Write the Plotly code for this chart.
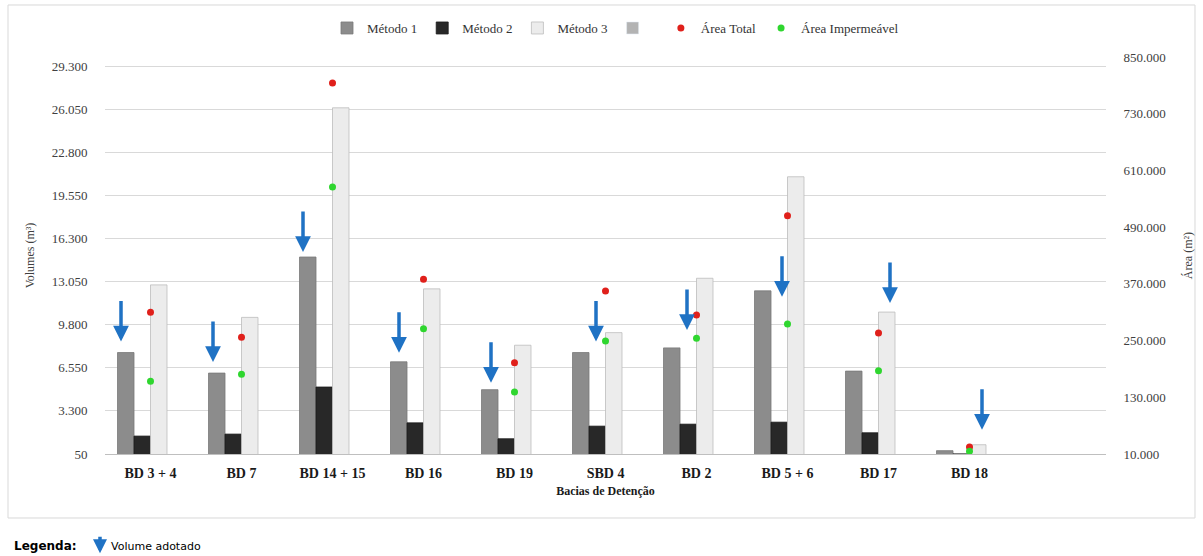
import plotly.graph_objects as go

# ---------------- data ----------------
categories = ["BD 3 + 4", "BD 7", "BD 14 + 15", "BD 16", "BD 19",
              "SBD 4", "BD 2", "BD 5 + 6", "BD 17", "BD 18"]
metodo1 = [7700, 6150, 14900, 7000, 4900, 7700, 8050, 12350, 6300, 300]
metodo2 = [1400, 1550, 5100, 2400, 1200, 2150, 2300, 2450, 1650, 60]
metodo3 = [12800, 10350, 26150, 12500, 8250, 9200, 13300, 20950, 10750, 750]
area_total = [310000, 257000, 795000, 380000, 203000, 355000, 304000, 514000, 266000, 25000]
area_imperm = [164000, 179000, 575000, 275000, 141000, 249000, 255000, 285000, 186000, 16000]
# which method's volume was adopted (1 or 3)
adopted = [1, 1, 1, 1, 1, 1, 1, 1, 3, 3]

left_ticks = [50, 3300, 6550, 9800, 13050, 16300, 19550, 22800, 26050, 29300]
right_ticks = [10000, 130000, 250000, 370000, 490000, 610000, 730000, 850000]

# ---------------- style ----------------
SERIF = "Liberation Serif"
SANS = "DejaVu Sans"
ARROW_BLUE = "#1f72c4"
arrow_xshift = [-29.5, -28.5, -29.5, -24.5, -23.5, -9.5, -9.5, -5.5, 11.5, 12.5]
arrow_gap = [11, 11, 5, 9, 7, 11, 18, -6, 9, 15]

fig = go.Figure()
fig.add_trace(go.Bar(name="Método 1", x=categories, y=metodo1,
                     marker=dict(color="#8c8c8c", line=dict(color="#7a7a7a", width=0.8))))
fig.add_trace(go.Bar(name="Método 2", x=categories, y=metodo2,
                     marker=dict(color="#282828", line=dict(color="#1a1a1a", width=0.8))))
fig.add_trace(go.Bar(name="Método 3", x=categories, y=metodo3,
                     marker=dict(color="#ececec", line=dict(color="#bdbdbd", width=0.8))))
fig.add_trace(go.Bar(name=" ", x=categories, y=[None] * len(categories),
                     marker=dict(color="#b3b3b3")))
fig.add_trace(go.Scatter(name="Área Total", x=categories, y=area_total, yaxis="y2",
                         mode="markers", marker=dict(color="#e0201b", size=7)))
fig.add_trace(go.Scatter(name="Área Impermeável", x=categories, y=area_imperm, yaxis="y2",
                         mode="markers", marker=dict(color="#2fd62f", size=7)))

# arrows marking adopted volume
for i, cat in enumerate(categories):
    val = metodo1[i] if adopted[i] == 1 else metodo3[i]
    fig.add_annotation(x=cat, y=val, xref="x", yref="y", text="",
                       showarrow=True, ax=0, ay=-42, arrowhead=2, arrowsize=0.9,
                       arrowwidth=3.5, arrowcolor=ARROW_BLUE,
                       xshift=arrow_xshift[i], yshift=arrow_gap[i])

# bottom legend
fig.add_annotation(xref="paper", yref="paper", x=-0.0929, y=-0.232, xanchor="left",
                   yanchor="middle", text="<b>Legenda:</b>", showarrow=False,
                   font=dict(family=SANS, size=12, color="#000000"))
fig.add_annotation(xref="paper", yref="paper", x=-0.005, y=-0.250, text="",
                   showarrow=True, ax=0, ay=-18, arrowhead=2, arrowsize=0.8,
                   arrowwidth=3.5, arrowcolor=ARROW_BLUE)
fig.add_annotation(xref="paper", yref="paper", x=0.004, y=-0.232, xanchor="left",
                   yanchor="middle", text="Volume adotado", showarrow=False,
                   font=dict(family=SANS, size=11, color="#000000"))

# chart border
fig.add_shape(type="rect", xref="paper", yref="paper", x0=-0.0969, x1=1.0889,
              y0=-0.1612, y1=1.131, line=dict(color="#d9d9d9", width=1), layer="below")

fig.update_layout(
    width=1203, height=556,
    margin=dict(l=105, r=97, t=57, b=102, autoexpand=False),
    paper_bgcolor="white", plot_bgcolor="white",
    barmode="group", bargap=0.275, bargroupgap=0,
    separators=",.",
    font=dict(family=SERIF, size=13, color="#404040"),
    showlegend=True,
    legend=dict(orientation="h", x=0.51, xanchor="center", y=1.073, yanchor="middle",
                font=dict(family=SERIF, size=13, color="#333333"),
                itemwidth=30, tracegroupgap=0),
    xaxis=dict(range=[-0.5, 10.5], showgrid=False, showline=True, linecolor="#bfbfbf",
               linewidth=1, ticks="outside", ticklen=6, tickcolor="white", automargin=False,
               tickfont=dict(family=SERIF, size=14, color="#1a1a1a", weight="bold"),
               title=dict(text="Bacias de Detenção", standoff=6,
                          font=dict(family=SERIF, size=12, color="#1a1a1a", weight="bold"))),
    yaxis=dict(range=[50, 29980], tickvals=left_ticks, tickformat=",.0f",
               showgrid=True, gridcolor="#d9d9d9", gridwidth=1, zeroline=False,
               showline=False, ticks="outside", ticklen=14, tickcolor="white",
               automargin=False,
               tickfont=dict(family=SERIF, size=13, color="#404040"),
               title=dict(text="Volumes (m³)", standoff=14,
                          font=dict(family=SERIF, size=12, color="#404040"))),
    yaxis2=dict(range=[10000, 850000], tickvals=right_ticks, tickformat=",.0f",
                overlaying="y", side="right", showgrid=False, zeroline=False,
                showline=False, ticks="outside", ticklen=14, tickcolor="white",
                automargin=False,
                tickfont=dict(family=SERIF, size=13, color="#404040"),
                title=dict(text="Área (m²)", standoff=18,
                           font=dict(family=SERIF, size=12, color="#404040"))),
)

fig.write_html("out.html", config={"displayModeBar": False},
               post_script="document.body.style.margin='0';")
